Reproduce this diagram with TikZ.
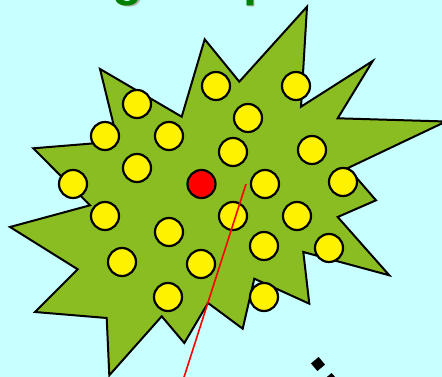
\documentclass[tikz,border=0pt]{standalone}
\usepackage{fontspec}
\setmainfont{Liberation Sans}
\definecolor{skycyan}{HTML}{C8FFFF}
\definecolor{leafgreen}{HTML}{8ABD22}
\definecolor{titlegreen}{HTML}{008000}
\begin{document}
\begin{tikzpicture}[x=1pt,y=-1pt,
outline/.style={draw=black, line width=2pt, line join=miter},
dot/.style={circle, draw=black, line width=2.2pt, fill=yellow, minimum size=28pt, inner sep=0pt},
hotdot/.style={dot, fill=red},
ray/.style={red, line width=1.6pt},
chip/.style={rectangle, fill=black, minimum size=10pt, inner sep=0pt, rotate=40},
title/.style={font=\fontsize{50}{60}\selectfont\bfseries, inner sep=0pt, anchor=base west}
]
\useasboundingbox (0,0) rectangle (442,377);
\clip (0,0) rectangle (442,377);
\fill[skycyan] (0,0) rectangle (442,377);
% title, only its lower edge shows
\node[title, text=gray!60] (titleshadow) at (22.5,-3) {Long shape};
\node[title, text=titlegreen] (title) at (21,-4.5) {Long shape};
% the spiky shape
\path[outline, fill=leafgreen] (204.7,39.3) -- (239.3,81.7) -- (307,6.7) -- (301,106.7)
  -- (372.7,61) -- (337.7,118.3) -- (446,121.5) -- (348,168) -- (376,200.3)
  -- (337.7,217) -- (389.3,275.3) -- (303.3,252) -- (309.3,303.7) -- (254.3,278.7)
  -- (242.7,328.7) -- (208,303) -- (184.3,343) -- (161.7,316.3) -- (109.3,375.3)
  -- (106.7,318) -- (35,312) -- (77.7,269.3) -- (10,227) -- (90,205.3)
  -- (33.3,148.3) -- (117.7,141.4) -- (100,69) -- (181.7,116.7) -- cycle;
% particles
\foreach \x/\y [count=\i] in {216/86, 296/86, 137/104, 248/118, 105/136, 169/136,
  233/152, 312/150, 137/168, 73/184, 265/184, 343/182, 105/216, 233/216, 297/216,
  169/232, 264/246, 329/248, 122/262, 201/264, 168/297, 264/297}
  \node[dot] (d\i) at (\x,\y) {};
\node[hotdot] (center) at (201.5,184) {};
% track
\coordinate (trackstart) at (246,184);
\coordinate (trackend) at (181.5,385);
\draw[ray] (trackstart) -- (trackend);
% dots at the corner
\node[chip] (chipa) at (318,364) {};
\node[chip] (chipb) at (331,380) {};
\end{tikzpicture}
\end{document}
